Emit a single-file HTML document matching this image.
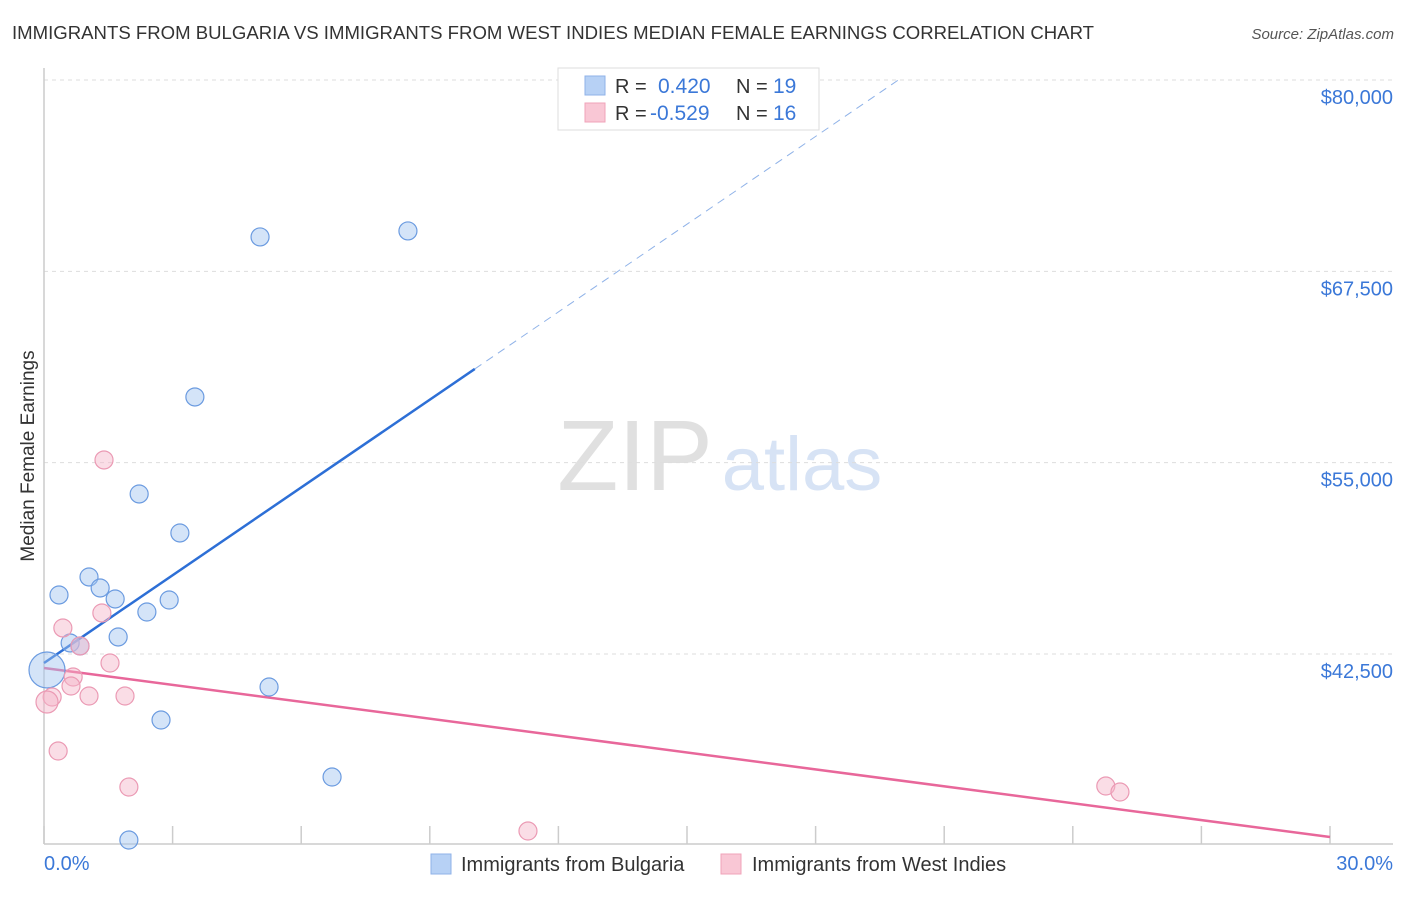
<!DOCTYPE html>
<html><head><meta charset="utf-8"><style>
body{margin:0;background:#fff;font-family:"Liberation Sans",sans-serif;}
svg text{font-family:"Liberation Sans",sans-serif;}
</style></head><body>
<svg id="chart" width="1406" height="892" viewBox="0 0 1406 892" xmlns="http://www.w3.org/2000/svg">
<text x="12" y="39" font-size="18.5" fill="#333" textLength="1082" lengthAdjust="spacingAndGlyphs">IMMIGRANTS FROM BULGARIA VS IMMIGRANTS FROM WEST INDIES MEDIAN FEMALE EARNINGS CORRELATION CHART</text>
<text x="1394" y="39" font-size="15" fill="#555" font-style="italic" text-anchor="end">Source: ZipAtlas.com</text>
<g>
<text x="635" y="490" font-size="100" fill="#e0e0e0" font-family="Liberation Serif,serif" text-anchor="middle">ZIP</text>
<text x="802" y="490" font-size="76" fill="#d7e3f5" text-anchor="middle">atlas</text>
</g>
<g id="grid"></g><g id="axes"></g><g id="trends"></g><g id="points"></g>
<text transform="translate(34,456) rotate(-90)" font-size="19" fill="#333" text-anchor="middle">Median Female Earnings</text>
<text x="44" y="870" font-size="20" fill="#3b78d8">0.0%</text>
<text x="1393" y="870" font-size="20" fill="#3b78d8" text-anchor="end">30.0%</text>
<g>
<rect x="558" y="68" width="261" height="62" fill="#fff" stroke="#ddd"/>
<rect x="585" y="76" width="20" height="19" fill="#b7d1f5" stroke="#8fb2e8"/>
<rect x="585" y="103" width="20" height="19" fill="#f9c7d5" stroke="#f0a3b9"/>
<text x="615" y="93" font-size="20" fill="#333">R = </text><text x="658" y="93" font-size="21" fill="#3b78d8">0.420</text>
<text x="736" y="93" font-size="20" fill="#333">N = </text><text x="773" y="93" font-size="21" fill="#3b78d8">19</text>
<text x="615" y="120" font-size="20" fill="#333">R = </text><text x="650" y="120" font-size="21" fill="#3b78d8">-0.529</text>
<text x="736" y="120" font-size="20" fill="#333">N = </text><text x="773" y="120" font-size="21" fill="#3b78d8">16</text>
</g>
<g>
<rect x="431" y="854" width="20" height="20" fill="#b7d1f5" stroke="#8fb2e8"/>
<text x="461" y="871" font-size="20" fill="#333">Immigrants from Bulgaria</text>
<rect x="721" y="854" width="20" height="20" fill="#f9c7d5" stroke="#f0a3b9"/>
<text x="752" y="871" font-size="20" fill="#333">Immigrants from West Indies</text>
</g>
</svg>
<script>
const yTicks=[80000,67500,55000,42500];
const yTickLabels=["$80,000","$67,500","$55,000","$42,500"];
const xTicks=[0,3,6,9,12,15,18,21,24,27,30];
const bulgariaX=[5.04,8.49,3.52,2.22,3.17,1.05,0.35,1.31,1.66,2.92,2.40,1.73,0.61,0.84,5.25,2.73,6.72,1.98,0.07];
const bulgariaY=[69747,70139,59292,52954,50406,47531,46355,46812,46094,46028,45244,43611,43219,43023,40344,38188,34463,30347,41455];
const bulgariaR=[9,9,9,9,9,9,9,9,9,9,9,9,9,9,9,9,9,9,18];
const westIndiesX=[1.40,0.44,1.35,0.84,1.54,0.68,0.63,1.05,1.89,0.19,0.07,0.33,1.98,11.29,24.77,25.10];
const westIndiesY=[55176,44199,45179,43023,41912,40997,40409,39756,39756,39690,39364,36162,33810,30935,33875,33483];
const westIndiesR=[9,9,9,9,9,9,9,9,9,9,11,9,9,9,9,9];
const bulgariaTrend=[0,41912,10.05,61122,19.93,80000];
const westIndiesTrend=[0,41586,30,30543];
const NS="http://www.w3.org/2000/svg";
const X0=44,X1=1330,YPX0=80,YPX1=654;
const xs=v=>X0+v/30*(X1-X0);
const ys=v=>YPX1-(v-42500)/(80000-42500)*(YPX1-YPX0);
function mk(t,a,p){const e=document.createElementNS(NS,t);for(const k in a)e.setAttribute(k,a[k]);p.appendChild(e);return e;}
const grid=document.getElementById('grid'),axes=document.getElementById('axes'),tr=document.getElementById('trends'),pts=document.getElementById('points');
yTicks.forEach((v,i)=>{
 const l=mk('line',{x1:X0,x2:1393,y1:ys(v),y2:ys(v),stroke:'#ddd','stroke-dasharray':'4,4'},grid);
 
 
 const t=mk('text',{x:1393,y:ys(v)+24,'font-size':20,fill:'#3b78d8','text-anchor':'end'},grid);
 t.textContent=yTickLabels[i];
 
 
});
const ax=mk('line',{x1:X0,x2:X0,y1:68,y2:844,stroke:'#ccc','stroke-width':1.5},axes);


const bx=mk('line',{x1:X0,x2:1393,y1:844,y2:844,stroke:'#ccc','stroke-width':1.5},axes);


xTicks.forEach(v=>{
 const t=mk('line',{x1:xs(v),x2:xs(v),y1:826,y2:844,stroke:'#ccc','stroke-width':1.5},axes);
 
 
});
const b1=mk('line',{x1:xs(bulgariaTrend[0]),y1:ys(bulgariaTrend[1]),x2:xs(bulgariaTrend[2]),y2:ys(bulgariaTrend[3]),stroke:'#2d6fd6','stroke-width':2.5},tr);


const b2=mk('line',{x1:xs(bulgariaTrend[2]),y1:ys(bulgariaTrend[3]),x2:xs(bulgariaTrend[4]),y2:ys(bulgariaTrend[5]),stroke:'#8fb2e8','stroke-width':1,'stroke-dasharray':'8,6'},tr);


const w1=mk('line',{x1:xs(westIndiesTrend[0]),y1:ys(westIndiesTrend[1]),x2:xs(westIndiesTrend[2]),y2:ys(westIndiesTrend[3]),stroke:'#e8679a','stroke-width':2.5},tr);


bulgariaX.forEach((v,i)=>{
 const c=mk('circle',{cx:xs(v),cy:ys(bulgariaY[i]),r:bulgariaR[i],fill:'rgba(160,195,240,0.45)',stroke:'#6b9be0','stroke-width':1.2},pts);
 
 
});
westIndiesX.forEach((v,i)=>{
 const c=mk('circle',{cx:xs(v),cy:ys(westIndiesY[i]),r:westIndiesR[i],fill:'rgba(245,180,200,0.45)',stroke:'#eb9ab4','stroke-width':1.2},pts);
 
 
});
</script>
</body></html>
